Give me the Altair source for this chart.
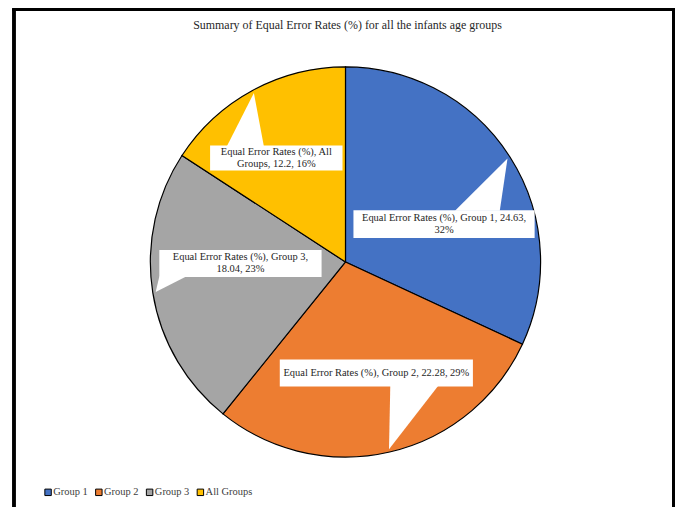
import textwrap
import math
import altair as alt
import pandas as pd

# ---- data ----
categories = ["Group 1", "Group 2", "Group 3", "All Groups"]
values = [24.63, 22.28, 18.04, 12.2]
series_name = "Equal Error Rates (%)"
colors = ["#4472C4", "#ED7D31", "#A5A5A5", "#FFC000"]
title_text = "Summary of Equal Error Rates (%) for all the infants age groups"

# ---- layout (pixels, plot coordinates) ----
W, H = 666, 500
CX, CY, R = 335, 254, 196
FONT = "Liberation Serif"
LINE_H = 12
# callout box: centre offset from pie centre, size, pointer side, pointer base (from box left), wrap width
CALLOUT = {
    "Group 1": dict(dx=99, dy=-38, w=182, h=28, side="top", b0=102, b1=147, wrap=38),
    "Group 2": dict(dx=31, dy=111.5, w=194, h=27, side="bottom", b0=111, b1=159, wrap=60),
    "Group 3": dict(dx=-105.5, dy=1.5, w=163, h=27, side="bottom", b0=0, b1=27, wrap=31),
    "All Groups": dict(dx=-69.5, dy=-104.5, w=133, h=25, side="top", b0=17, b1=54, wrap=26),
}

total = sum(values)
rows, boxes, tris = [], [], []
cum = 0.0
for i, (c, v) in enumerate(zip(categories, values)):
    pct = round(v / total * 100)
    mid = (cum + v / 2) / total * 2 * math.pi
    cum += v
    rows.append(dict(cat=c, val=v, idx=i))
    L = CALLOUT[c]
    bx, by = CX + L["dx"], CY + L["dy"]
    x0, x1 = bx - L["w"] / 2, bx + L["w"] / 2
    y0, y1 = by - L["h"] / 2, by + L["h"] / 2
    lines = textwrap.wrap(f"{series_name}, {c}, {v}, {pct}%", L["wrap"])
    ty0 = by - (len(lines) - 1) * LINE_H / 2
    boxes.append(dict(cat=c, x0=x0, x1=x1, y0=y0, y1=y1, bx=bx, by=ty0, label="\n".join(lines)))
    tx = CX + 0.985 * R * math.sin(mid)
    ty = CY - 0.985 * R * math.cos(mid)
    edge = y0 + 0.5 if L["side"] == "top" else y1 - 0.5
    tris.append(dict(cat=c, py=edge, xa=x0 + L["b0"], xb=x0 + L["b1"]))
    tris.append(dict(cat=c, py=ty, xa=tx, xb=tx))

df = pd.DataFrame(rows)
dfb = pd.DataFrame(boxes)
dft = pd.DataFrame(tris)

xs = alt.Scale(domain=[0, W], nice=False, zero=False)
ys = alt.Scale(domain=[H, 0], nice=False, zero=False)

pie = alt.Chart(df).mark_arc(outerRadius=R, stroke="black", strokeWidth=1.2).encode(
    theta=alt.Theta("val:Q", stack=True),
    order=alt.Order("idx:Q"),
    color=alt.Color(
        "cat:N",
        scale=alt.Scale(domain=categories, range=colors),
        sort=categories,
        legend=alt.Legend(
            title=None, orient="none", direction="horizontal",
            legendX=31, legendY=480, padding=0,
            symbolType="square", symbolSize=42, symbolStrokeColor="black",
            symbolStrokeWidth=1, labelFont=FONT, labelFontSize=10.5,
            labelColor="#404040", labelOffset=0, columnPadding=5,
        ),
    ),
    x=alt.value(CX),
    y=alt.value(CY),
)

box = alt.Chart(dfb).mark_rect(color="white").encode(
    x=alt.X("x0:Q", scale=xs, axis=None),
    x2="x1:Q",
    y=alt.Y("y0:Q", scale=ys, axis=None),
    y2="y1:Q",
)

ptr = alt.Chart(dft).mark_area(orient="horizontal", color="white", opacity=1).encode(
    y=alt.Y("py:Q", scale=ys, axis=None),
    x=alt.X("xa:Q", scale=xs, axis=None),
    x2="xb:Q",
    detail="cat:N",
)

txt = alt.Chart(dfb).mark_text(
    font=FONT, fontSize=10.5, color="#262626", lineBreak="\n",
    align="center", baseline="middle", lineHeight=LINE_H,
).encode(
    x=alt.X("bx:Q", scale=xs, axis=None),
    y=alt.Y("by:Q", scale=ys, axis=None),
    text="label:N",
)

frame_l = alt.Chart(df).mark_rule(color="black", strokeWidth=3).encode(
    x=alt.value(2), y=alt.value(0), y2=alt.value(H))
frame_r = alt.Chart(df).mark_rule(color="black", strokeWidth=3).encode(
    x=alt.value(W - 1.5), y=alt.value(0), y2=alt.value(H))
frame_t = alt.Chart(df).mark_rule(color="black", strokeWidth=3).encode(
    x=alt.value(0.5), x2=alt.value(W), y=alt.value(0.5))

chart = alt.layer(pie, box, ptr, txt, frame_l, frame_r, frame_t).properties(
    width=W, height=H,
    title=alt.TitleParams(title_text, font=FONT, fontSize=12, fontWeight="normal",
                          color="#262626", anchor="middle", offset=-24, dx=4),
    autosize=alt.AutoSizeParams(type="none"),
    padding={"left": 4, "top": 0, "right": 0, "bottom": 0},
).configure_view(stroke=None)

chart.save("out.html", embed_options={"renderer": "svg", "actions": False})
